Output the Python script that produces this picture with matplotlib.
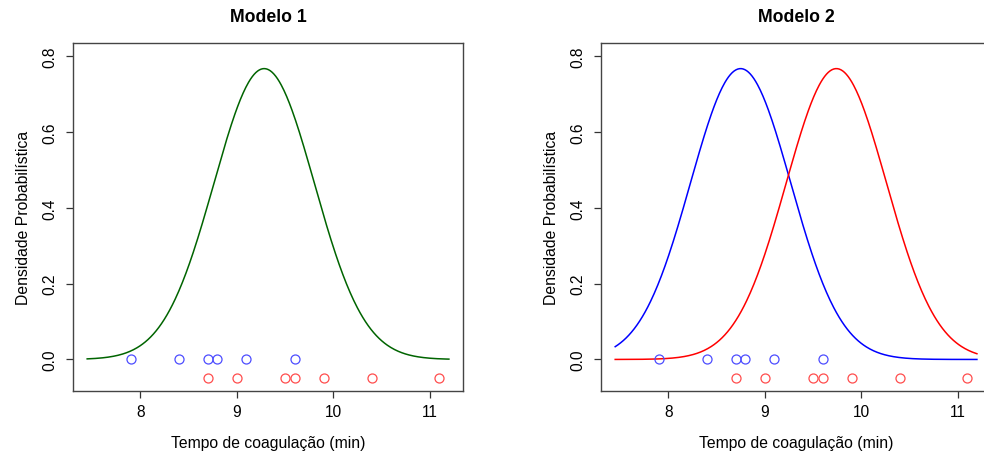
import matplotlib
matplotlib.use('Agg')
import matplotlib.pyplot as plt
import numpy as np

# coagulation times (min) for the two groups
grupo_a = [7.9, 8.4, 8.7, 8.8, 9.1, 9.6]
grupo_b = [8.7, 9.0, 9.5, 9.6, 9.9, 10.4, 11.1]
desvio = 0.52          # common standard deviation of the fitted normals
x_curva = (7.45, 11.2)  # range of the density curves

titulos = ['Modelo 1', 'Modelo 2']
xlabel = 'Tempo de coagulação (min)'
ylabel = 'Densidade Probabilística'

plt.rcParams['font.family'] = ['Liberation Sans', 'DejaVu Sans']


def dnorm(x, m, s):
    return np.exp(-0.5 * ((x - m) / s) ** 2) / (s * np.sqrt(2 * np.pi))


def estilo(ax, titulo):
    ax.set_xlim(7.3, 11.35)
    ax.set_ylim(-0.084, 0.834)
    ax.set_xticks([8, 9, 10, 11])
    ax.set_yticks([0.0, 0.2, 0.4, 0.6, 0.8])
    ax.set_yticklabels(['0.0', '0.2', '0.4', '0.6', '0.8'], rotation=90, va='center')
    ax.tick_params(direction='out', length=5, width=0.9, labelsize=11.2, colors='#333333',
                   labelcolor='black')
    ax.tick_params(axis='x', pad=4)
    ax.tick_params(axis='y', pad=6)
    for sp in ax.spines.values():
        sp.set_color('#444444')
        sp.set_linewidth(1.0)
    ax.set_title(titulo, fontsize=12.7, fontweight='bold', pad=16)
    ax.set_xlabel(xlabel, fontsize=11.3, labelpad=12)
    ax.set_ylabel(ylabel, fontsize=11.3, labelpad=8)


def pontos(ax):
    ax.plot(grupo_a, np.zeros(len(grupo_a)), 'o', mfc='none', mec='#4d4dff', ms=6.5, mew=0.9)
    ax.plot(grupo_b, np.full(len(grupo_b), -0.05), 'o', mfc='none', mec='#ff4d4d', ms=6.5, mew=0.9)


media_a = np.mean(grupo_a)
media_b = np.mean(grupo_b)
media_geral = np.mean(grupo_a + grupo_b)
x = np.linspace(x_curva[0], x_curva[1], 400)

fig = plt.figure(figsize=(9.84, 4.56), dpi=100)
ax1 = fig.add_axes([0.0739, 0.1397, 0.397, 0.7632])
ax2 = fig.add_axes([0.6105, 0.1397, 0.397, 0.7632])

# modelo 1: a single normal for all observations
ax1.plot(x, dnorm(x, media_geral, desvio), color='#006400', lw=1.1)
pontos(ax1)
estilo(ax1, titulos[0])

# modelo 2: one normal per group
ax2.plot(x, dnorm(x, media_a, desvio), color='blue', lw=1.1)
ax2.plot(x, dnorm(x, media_b, desvio), color='red', lw=1.1)
pontos(ax2)
estilo(ax2, titulos[1])

fig.savefig('out.png', dpi=100)
